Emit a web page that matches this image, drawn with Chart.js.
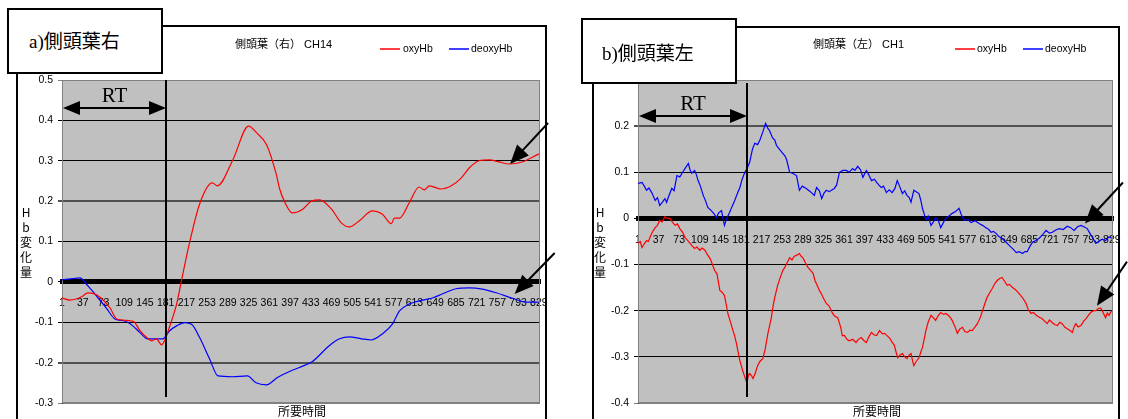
<!DOCTYPE html>
<html>
<head>
<meta charset="utf-8">
<script src="https://cdn.jsdelivr.net/npm/chart.js@4.4.1/dist/chart.umd.min.js"></script>
<style>
  body { margin:0; width:1128px; height:419px; overflow:hidden; position:relative; background:#fff;
         font-family:"Liberation Sans", Arial, "Noto Sans CJK JP", sans-serif; color:#000; }
  .frame { position:absolute; border:2px solid #000; box-sizing:border-box; background:#fff; }
  .cv { position:absolute; top:0; }
  .tag { position:absolute; border:2px solid #000; background:#fff; box-sizing:border-box;
         font-family:"Liberation Serif", "Noto Sans CJK JP", serif; font-size:19px; line-height:1; }
  .tag span { position:absolute; white-space:nowrap; }
  .ttl { position:absolute; font-family:"Liberation Sans", "Noto Sans CJK JP", sans-serif; font-size:11px; white-space:nowrap; line-height:1; }
  .leg { position:absolute; font-size:10.5px; white-space:nowrap; line-height:1; }
  .sw { position:absolute; height:2px; }
  .ytl { position:absolute; width:16px; text-align:center; font-family:"Noto Sans CJK JP", sans-serif; font-size:12px; line-height:15px; }
  .xtl { position:absolute; font-family:"Noto Sans CJK JP", sans-serif; font-size:12px; line-height:1; white-space:nowrap; }
</style>
</head>
<body>
<div class="frame" style="left:16px;top:25px;width:531px;height:420px;"></div>
<div class="frame" style="left:592px;top:26px;width:528px;height:420px;"></div>

<canvas id="cL" class="cv" style="left:0;" width="564" height="419"></canvas>
<canvas id="cR" class="cv" style="left:564px;" width="564" height="419"></canvas>

<div class="tag" style="left:7px;top:8px;width:156px;height:66px;"><span style="left:20px;top:22px;">a)側頭葉右</span></div>
<div class="tag" style="left:581px;top:18px;width:156px;height:66px;"><span style="left:19px;top:24px;">b)側頭葉左</span></div>

<div class="ttl" style="left:235px;top:39px;">側頭葉（右） CH14</div>
<div class="ttl" style="left:813px;top:39px;">側頭葉（左） CH1</div>

<div class="sw" style="left:380px;top:48px;width:20px;background:#ff4040;"></div>
<div class="leg" style="left:403px;top:43px;">oxyHb</div>
<div class="sw" style="left:449px;top:48px;width:20px;background:#4040ff;"></div>
<div class="leg" style="left:471px;top:43px;">deoxyHb</div>
<div class="sw" style="left:955px;top:48px;width:20px;background:#ff4040;"></div>
<div class="leg" style="left:977px;top:43px;">oxyHb</div>
<div class="sw" style="left:1023px;top:48px;width:20px;background:#4040ff;"></div>
<div class="leg" style="left:1045px;top:43px;">deoxyHb</div>

<div class="ytl" style="left:18px;top:204px;">H<br>b<br>変<br>化<br>量</div>
<div class="ytl" style="left:592px;top:204px;">H<br>b<br>変<br>化<br>量</div>
<div class="xtl" style="left:278px;top:405px;">所要時間</div>
<div class="xtl" style="left:853px;top:405px;">所要時間</div>

<script>
// sample index labels along the time axis
const xTickLabels = ['1','37','73','109','145','181','217','253','289','325','361','397','433','469','505','541','577','613','649','685','721','757','793','829'];
const leftYTicks = [-0.3, -0.2, -0.1, 0, 0.1, 0.2, 0.3, 0.4, 0.5];
const rightYTicks = [-0.4, -0.3, -0.2, -0.1, 0, 0.1, 0.2, 0.3];

// right temporal lobe, CH14  [sample, Hb change]
const leftOxy = [[1,-0.040],[15,-0.045],[35,-0.037],[46,-0.027],[61,-0.032],[84,-0.064],[96,-0.092],[110,-0.095],[122,-0.097],[127,-0.100],[136,-0.120],[150,-0.140],[157,-0.146],[165,-0.141],[174,-0.156],[179,-0.146],[188,-0.110],[200,-0.055],[208,0.000],[222,0.094],[240,0.193],[262,0.245],[271,0.238],[297,0.300],[325,0.386],[339,0.369],[356,0.340],[373,0.267],[379,0.230],[387,0.200],[401,0.171],[419,0.180],[434,0.200],[448,0.203],[469,0.180],[486,0.146],[500,0.136],[517,0.151],[540,0.176],[557,0.168],[573,0.144],[578,0.158],[587,0.158],[604,0.196],[621,0.235],[630,0.228],[639,0.238],[659,0.230],[677,0.238],[694,0.257],[708,0.282],[725,0.300],[743,0.302],[760,0.297],[777,0.292],[800,0.297],[829,0.317]];
const leftDeoxy = [[1,0.005],[20,0.008],[32,0.010],[46,-0.010],[61,-0.035],[79,-0.067],[93,-0.092],[110,-0.097],[124,-0.109],[136,-0.125],[150,-0.141],[162,-0.141],[176,-0.141],[188,-0.121],[200,-0.109],[214,-0.101],[226,-0.105],[240,-0.138],[257,-0.190],[272,-0.233],[297,-0.235],[323,-0.233],[338,-0.250],[356,-0.255],[375,-0.237],[396,-0.222],[413,-0.212],[436,-0.197],[465,-0.158],[483,-0.141],[500,-0.136],[521,-0.141],[538,-0.144],[557,-0.129],[575,-0.104],[587,-0.072],[604,-0.055],[621,-0.047],[644,-0.040],[661,-0.030],[685,-0.017],[708,-0.015],[731,-0.018],[755,-0.027],[782,-0.040],[806,-0.050],[829,-0.050]];

// left temporal lobe, CH1  [sample, Hb change]
const rightOxy = [[1,-0.054],[5,-0.050],[8,-0.063],[12,-0.055],[16,-0.048],[19,-0.050],[22,-0.041],[26,-0.030],[31,-0.020],[35,-0.015],[39,-0.004],[43,-0.008],[48,0.004],[52,0.000],[57,0.000],[61,-0.008],[66,-0.015],[70,-0.012],[74,-0.022],[79,-0.030],[83,-0.041],[88,-0.048],[92,-0.054],[96,-0.060],[100,-0.065],[104,-0.062],[109,-0.069],[113,-0.064],[118,-0.069],[122,-0.078],[127,-0.087],[131,-0.100],[135,-0.113],[139,-0.120],[144,-0.156],[148,-0.160],[152,-0.167],[155,-0.185],[158,-0.206],[162,-0.222],[167,-0.243],[170,-0.255],[173,-0.271],[176,-0.290],[179,-0.308],[184,-0.330],[188,-0.345],[191,-0.356],[194,-0.340],[196,-0.336],[199,-0.340],[202,-0.347],[206,-0.335],[210,-0.319],[214,-0.310],[219,-0.304],[223,-0.285],[228,-0.249],[234,-0.215],[237,-0.190],[240,-0.171],[245,-0.145],[249,-0.130],[254,-0.113],[258,-0.105],[262,-0.095],[266,-0.085],[270,-0.090],[274,-0.082],[278,-0.080],[283,-0.076],[286,-0.082],[289,-0.085],[293,-0.095],[298,-0.106],[303,-0.113],[307,-0.119],[310,-0.134],[314,-0.145],[318,-0.156],[322,-0.165],[326,-0.175],[330,-0.184],[335,-0.190],[341,-0.206],[345,-0.212],[350,-0.215],[355,-0.235],[358,-0.254],[362,-0.254],[366,-0.262],[370,-0.265],[376,-0.262],[382,-0.269],[386,-0.262],[391,-0.258],[396,-0.265],[400,-0.269],[405,-0.255],[409,-0.247],[413,-0.252],[418,-0.254],[423,-0.243],[428,-0.250],[432,-0.249],[437,-0.255],[441,-0.260],[445,-0.268],[449,-0.275],[452,-0.290],[455,-0.302],[459,-0.296],[463,-0.293],[467,-0.300],[471,-0.304],[475,-0.296],[478,-0.293],[481,-0.310],[483,-0.319],[487,-0.310],[492,-0.302],[495,-0.290],[498,-0.280],[501,-0.262],[504,-0.243],[508,-0.225],[513,-0.210],[517,-0.215],[521,-0.221],[526,-0.210],[530,-0.204],[535,-0.208],[539,-0.206],[545,-0.212],[550,-0.221],[555,-0.235],[559,-0.249],[563,-0.240],[568,-0.236],[572,-0.245],[577,-0.247],[581,-0.242],[585,-0.243],[590,-0.235],[594,-0.228],[599,-0.215],[603,-0.200],[607,-0.185],[611,-0.171],[616,-0.160],[620,-0.152],[625,-0.140],[629,-0.134],[633,-0.130],[637,-0.128],[641,-0.135],[646,-0.145],[650,-0.143],[655,-0.149],[661,-0.155],[667,-0.163],[673,-0.172],[679,-0.184],[683,-0.198],[688,-0.206],[692,-0.204],[697,-0.210],[702,-0.214],[707,-0.217],[711,-0.222],[716,-0.228],[720,-0.220],[725,-0.226],[729,-0.230],[734,-0.232],[738,-0.225],[742,-0.228],[747,-0.236],[751,-0.239],[756,-0.243],[760,-0.247],[763,-0.235],[766,-0.228],[770,-0.235],[775,-0.232],[780,-0.222],[784,-0.217],[788,-0.210],[792,-0.204],[797,-0.200],[801,-0.200],[806,-0.195],[810,-0.195],[814,-0.205],[818,-0.215],[821,-0.205],[824,-0.210],[827,-0.203],[829,-0.200]];
const rightDeoxy = [[1,0.076],[8,0.078],[12,0.070],[16,0.061],[20,0.066],[25,0.056],[31,0.039],[35,0.045],[39,0.028],[44,0.036],[48,0.043],[51,0.035],[54,0.046],[60,0.065],[64,0.060],[69,0.093],[74,0.090],[78,0.098],[83,0.108],[89,0.119],[92,0.105],[95,0.098],[100,0.104],[103,0.095],[106,0.082],[110,0.070],[115,0.050],[119,0.038],[123,0.024],[129,0.017],[134,0.010],[138,0.002],[142,0.012],[147,0.017],[152,-0.015],[156,0.000],[161,0.013],[165,0.025],[170,0.039],[175,0.055],[179,0.067],[183,0.085],[187,0.098],[192,0.110],[196,0.121],[201,0.150],[205,0.163],[210,0.160],[214,0.170],[219,0.187],[224,0.206],[228,0.195],[231,0.190],[236,0.175],[240,0.170],[243,0.158],[248,0.150],[254,0.141],[258,0.135],[261,0.126],[266,0.100],[271,0.098],[278,0.093],[283,0.061],[288,0.070],[295,0.065],[300,0.060],[304,0.056],[309,0.050],[313,0.067],[318,0.060],[322,0.043],[326,0.055],[330,0.061],[335,0.058],[339,0.061],[344,0.065],[348,0.072],[353,0.100],[359,0.104],[365,0.104],[370,0.100],[376,0.108],[380,0.104],[385,0.113],[390,0.105],[394,0.089],[400,0.104],[404,0.095],[409,0.082],[414,0.085],[418,0.078],[422,0.072],[426,0.067],[430,0.070],[435,0.056],[440,0.062],[445,0.056],[450,0.065],[454,0.082],[458,0.070],[463,0.054],[467,0.060],[471,0.050],[475,0.045],[478,0.035],[483,0.061],[487,0.058],[492,0.054],[495,0.040],[498,0.022],[501,0.010],[504,-0.004],[508,0.005],[513,-0.015],[517,-0.008],[521,0.002],[526,-0.005],[530,-0.020],[535,-0.008],[539,0.000],[545,0.006],[550,0.011],[556,0.015],[562,0.022],[566,0.008],[571,-0.004],[577,-0.002],[583,-0.009],[590,-0.005],[597,-0.011],[603,-0.015],[609,-0.020],[614,-0.024],[618,-0.030],[622,-0.028],[627,-0.033],[632,-0.040],[637,-0.043],[643,-0.050],[650,-0.059],[656,-0.066],[662,-0.074],[667,-0.072],[673,-0.076],[677,-0.072],[681,-0.072],[686,-0.060],[690,-0.052],[696,-0.048],[702,-0.043],[708,-0.035],[714,-0.026],[720,-0.032],[725,-0.030],[731,-0.025],[737,-0.022],[744,-0.024],[751,-0.017],[757,-0.020],[763,-0.026],[769,-0.018],[775,-0.015],[780,-0.018],[786,-0.022],[792,-0.035],[797,-0.045],[801,-0.054],[806,-0.050],[812,-0.045],[818,-0.048],[824,-0.040],[829,-0.043]];

// reaction-time marker (sample index) for each panel
const rtIndex = [181, 191];
// points the black pointer arrows aim at [sample, Hb change]
const leftPointers = [[779, 0.292], [787, -0.030]];
const rightPointers = [[782, -0.011], [803, -0.189]];

const toXY = arr => arr.map(p => ({x: p[0], y: p[1]}));

function arrowHead(ctx, x1, y1, x2, y2, len, half) {
  const a = Math.atan2(y2 - y1, x2 - x1);
  ctx.beginPath();
  ctx.moveTo(x2, y2);
  ctx.lineTo(x2 - len * Math.cos(a) + half * Math.sin(a), y2 - len * Math.sin(a) - half * Math.cos(a));
  ctx.lineTo(x2 - len * Math.cos(a) - half * Math.sin(a), y2 - len * Math.sin(a) + half * Math.cos(a));
  ctx.closePath();
  ctx.fill();
}

const panelDecor = {
  id: 'panelDecor',
  beforeDraw(chart) {
    const {ctx, chartArea: a} = chart;
    ctx.save();
    ctx.fillStyle = '#c0c0c0';
    ctx.fillRect(a.left, a.top, a.width, a.height);
    ctx.restore();
  },
  beforeDatasetsDraw(chart) {
    const {ctx, chartArea: a} = chart;
    ctx.save();
    ctx.strokeStyle = '#808080';
    ctx.lineWidth = 1;
    ctx.strokeRect(a.left + 0.5, a.top + 0.5, a.width - 1, a.height - 1);
    ctx.restore();
  },
  afterDatasetsDraw(chart, args, o) {
    const {ctx, chartArea: a, scales: {x, y}} = chart;
    ctx.save();
    ctx.strokeStyle = '#000';
    ctx.fillStyle = '#000';
    // RT vertical marker
    const rx = Math.round(x.getPixelForValue(o.rt));
    ctx.lineWidth = 2;
    ctx.beginPath();
    ctx.moveTo(rx, a.top + o.rtTop);
    ctx.lineTo(rx, a.bottom - 6);
    ctx.stroke();
    // RT span arrow
    const x0 = x.getPixelForValue(1) + 1;
    const ay = a.top + o.rtArrowY;
    ctx.beginPath();
    ctx.moveTo(x0 + 10, ay);
    ctx.lineTo(rx - 10, ay);
    ctx.stroke();
    arrowHead(ctx, rx, ay, x0, ay, 17, 7);
    arrowHead(ctx, x0, ay, rx, ay, 17, 7);
    ctx.font = '21px "Liberation Serif", serif';
    ctx.textAlign = 'center';
    ctx.textBaseline = 'middle';
    ctx.fillText('RT', (x0 + rx) / 2, ay - 12);
    // pointer arrows
    o.pointers.forEach((p, i) => {
      const tx = x.getPixelForValue(p[0]);
      const ty = y.getPixelForValue(p[1]);
      const [dx, dy] = o.tails[i];
      ctx.lineWidth = 2;
      ctx.beginPath();
      ctx.moveTo(tx + dx, ty + dy);
      ctx.lineTo(tx + dx * 0.3, ty + dy * 0.3);
      ctx.stroke();
      arrowHead(ctx, tx + dx, ty + dy, tx, ty, 19, 8);
    });
    ctx.restore();
  }
};

function makeChart(id, oxy, deoxy, yMin, yMax, pad, decor, smooth) {
  return new Chart(document.getElementById(id), {
    type: 'line',
    data: {
      datasets: [
        {label: 'oxyHb', data: toXY(oxy), borderColor: '#ff0000', borderWidth: 1.2, pointRadius: 0,
         cubicInterpolationMode: smooth ? 'monotone' : 'default', tension: 0},
        {label: 'deoxyHb', data: toXY(deoxy), borderColor: '#0000ff', borderWidth: 1.2, pointRadius: 0,
         cubicInterpolationMode: smooth ? 'monotone' : 'default', tension: 0}
      ]
    },
    options: {
      responsive: false,
      animation: false,
      events: [],
      layout: {padding: pad},
      plugins: {legend: {display: false}, tooltip: {enabled: false}, title: {display: false}, panelDecor: decor},
      scales: {
        x: {
          type: 'linear',
          position: {y: 0},
          min: 1, max: 831,
          afterBuildTicks: s => { s.ticks = xTickLabels.map(v => ({value: Number(v)})); },
          ticks: {autoSkip: false, maxRotation: 0, padding: 7, color: '#000',
                  font: {family: '"Liberation Sans", Arial, sans-serif', size: 10.5},
                  callback: (v, i) => xTickLabels[i]},
          grid: {display: false},
          border: {display: true, color: '#000', width: 5}
        },
        y: {
          type: 'linear',
          min: yMin, max: yMax,
          afterBuildTicks: s => { s.ticks = (yMin < -0.35 ? rightYTicks : leftYTicks).map(v => ({value: v})); },
          afterFit: s => { s.width = 45; },
          ticks: {padding: 5, color: '#000', font: {family: '"Liberation Sans", Arial, sans-serif', size: 10.5},
                  callback: v => String(Number(v.toFixed(1)))},
          grid: {
            drawTicks: true, tickLength: 4,
            color: c => {
              const v = Math.round(c.tick.value * 10) / 10;
              if (v === yMax || v === yMin) return '#808080';
              if (v === 0.2 || (v === -0.2 && yMin > -0.35)) return '#505050';
              return '#000';
            },
            lineWidth: c => {
              const v = Math.round(c.tick.value * 10) / 10;
              if (v === 0.2 || (v === -0.2 && yMin > -0.35)) return 2;
              return 1;
            }
          },
          border: {display: true, color: '#404040', width: 1}
        }
      }
    },
    plugins: [panelDecor]
  });
}

makeChart('cL', leftOxy, leftDeoxy, -0.3, 0.5, {left: 17, right: 24, top: 80, bottom: 16},
  {rt: rtIndex[0], rtTop: 0, rtArrowY: 28, pointers: leftPointers, tails: [[38, -41], [40, -41]]}, true);
makeChart('cR', rightOxy, rightDeoxy, -0.4, 0.3, {left: 29, right: 15, top: 80, bottom: 16},
  {rt: rtIndex[1], rtTop: 3, rtArrowY: 36, pointers: rightPointers, tails: [[38, -41], [30, -44]]}, false);
</script>
</body>
</html>
